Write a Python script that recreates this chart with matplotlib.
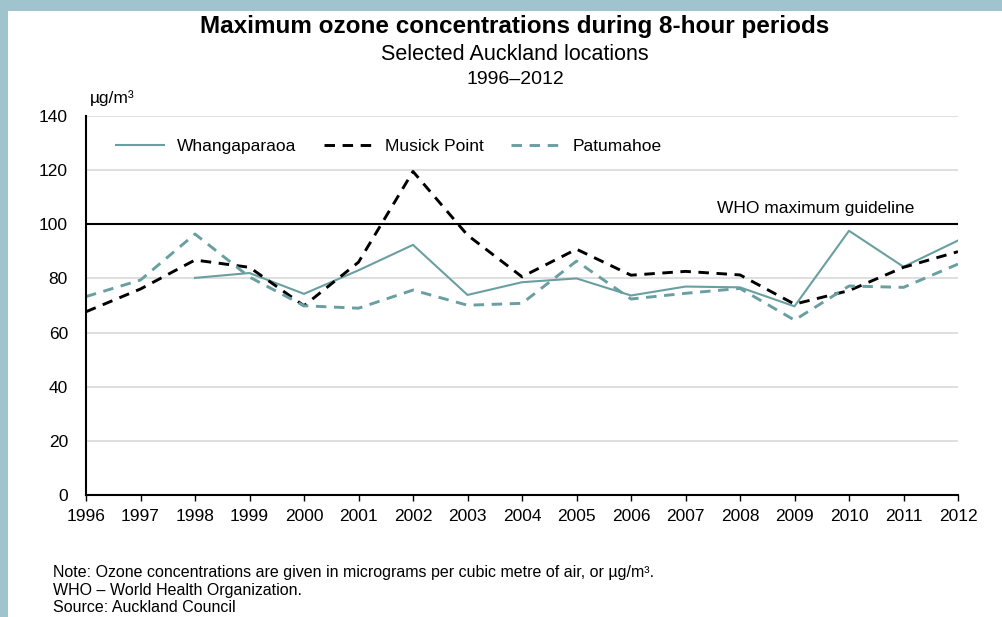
import matplotlib.pyplot as plt
from matplotlib.patches import Rectangle

plt.rcParams['font.family'] = ['Liberation Sans', 'DejaVu Sans']

# Data (µg/m3)
years = list(range(1996, 2013))
whangaparaoa = [None, None, 80.2, 82.0, 74.3, 83.0, 92.4, 73.9, 78.6, 80.0,
                73.7, 77.0, 76.7, 69.7, 97.6, 84.3, 94.0]
musick_point = [67.7, 76.1, 86.8, 84.1, 69.9, 86.0, 119.5, 96.0, 80.6, 90.8,
                81.2, 82.6, 81.3, 70.5, 75.5, 84.1, 89.9]
patumahoe = [73.3, 79.4, 96.4, 80.5, 69.9, 69.0, 75.7, 70.1, 70.8, 86.4,
             72.4, 74.5, 76.3, 64.6, 77.2, 76.7, 85.3]
who_guideline = 100
yticks = [0, 20, 40, 60, 80, 100, 120, 140]

teal = '#6a9fa1'
border = '#a0c4ce'

fig = plt.figure(figsize=(10.03, 6.17), dpi=100)
fig.patches.append(Rectangle((0, 1 - 11 / 617), 1, 11 / 617, transform=fig.transFigure,
                             facecolor=border, edgecolor='none', zorder=0))
fig.patches.append(Rectangle((0, 0), 8 / 1003, 1, transform=fig.transFigure,
                             facecolor=border, edgecolor='none', zorder=0))

ax = fig.add_axes([86 / 1003, 1 - 495 / 617, (958 - 86) / 1003, (495 - 116) / 617])

w_years = [y for y, v in zip(years, whangaparaoa) if v is not None]
w_vals = [v for v in whangaparaoa if v is not None]
ax.plot(w_years, w_vals, color=teal, lw=1.5, label='Whangaparaoa')
ax.plot(years, musick_point, color='black', lw=2.1, dashes=(3.6, 2.6), label='Musick Point')
ax.plot(years, patumahoe, color=teal, lw=2.1, dashes=(3.6, 2.6), label='Patumahoe')
ax.axhline(who_guideline, color='black', lw=1.5, zorder=1)
ax.text(2011.2, 104.3, 'WHO maximum guideline', ha='right', va='baseline', fontsize=12.5)

ax.set_xlim(1996, 2012)
ax.set_ylim(0, 140)
ax.set_xticks(years)
ax.set_yticks(yticks)
ax.grid(axis='y', color='#d9d9d9', lw=1.2)
ax.set_axisbelow(True)
for s in ['top', 'right']:
    ax.spines[s].set_visible(False)
ax.spines['left'].set_linewidth(1.5)
ax.spines['bottom'].set_linewidth(1.5)
ax.tick_params(axis='x', length=4, width=1, labelsize=12.5, pad=6)
ax.tick_params(axis='y', length=0, labelsize=12.5, pad=13)

ax.legend(loc='upper left', bbox_to_anchor=(0.034, 0.94), ncol=3, frameon=False,
          fontsize=12.5, handlelength=2.8, columnspacing=1.55, handletextpad=0.75,
          borderpad=0, borderaxespad=0)

fig.text(515 / 1003, 1 - 26 / 617, 'Maximum ozone concentrations during 8-hour periods',
         ha='center', va='center', fontsize=17.5, fontweight='bold')
fig.text(515 / 1003, 1 - 55 / 617, 'Selected Auckland locations', ha='center', va='center',
         fontsize=15.5)
fig.text(515 / 1003, 1 - 79 / 617, '1996–2012', ha='center', va='center', fontsize=14)
fig.text(90 / 1003, 1 - 98 / 617, 'µg/m³', ha='left', va='center', fontsize=12.5)

fig.text(53 / 1003, 1 - 572 / 617,
         'Note: Ozone concentrations are given in micrograms per cubic metre of air, or µg/m³.',
         ha='left', va='center', fontsize=11.5)
fig.text(53 / 1003, 1 - 590 / 617, 'WHO – World Health Organization.', ha='left',
         va='center', fontsize=11.5)
fig.text(53 / 1003, 2 / 617, 'Source: Auckland Council', ha='left', va='bottom',
         fontsize=11.5)

fig.savefig('out.png', dpi=100)
